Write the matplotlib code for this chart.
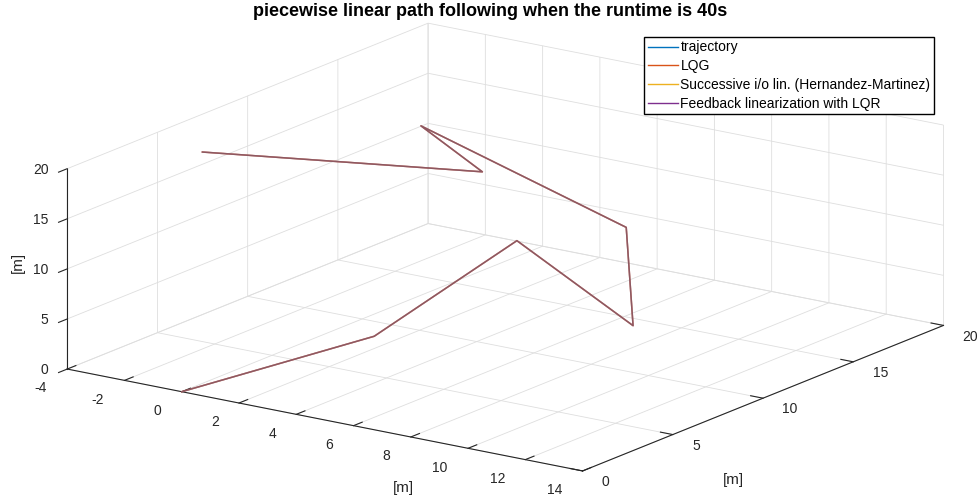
import matplotlib
matplotlib.use('Agg')
import matplotlib.pyplot as plt
from matplotlib.lines import Line2D

plt.rcParams['font.family'] = ['Liberation Sans', 'DejaVu Sans']
plt.rcParams['axes.unicode_minus'] = False
plt.rcParams['grid.color'] = '#dedede'
plt.rcParams['grid.linewidth'] = 0.6

# waypoints of the piecewise linear reference [m]
wp_x = [0.0, 4.2, 4.9, 9.65, 9.6, 1.8, 3.0, -1.8]
wp_y = [0.0, 4.0, 10.8, 9.7, 9.4, 10.4, 11.9, 4.0]
wp_z = [0.0, 5.0, 10.0, 5.0, 15.0, 20.0, 15.0, 20.0]

# the controllers track the path closely at this scale
labels = ['trajectory', 'LQG', 'Successive i/o lin. (Hernandez-Martinez)',
          'Feedback linearization with LQR']
colors = ['#0072BD', '#D95319', '#EDB120', '#7E2F8E']
alphas = [0.25, 1.0, 0.1, 0.45]
zorders = [3, 1, 4, 2]

x_ticks = [-4, -2, 0, 2, 4, 6, 8, 10, 12, 14]
y_ticks = [0, 5, 10, 15, 20]
z_ticks = [0, 5, 10, 15, 20]

fig = plt.figure(figsize=(9.8, 4.99), dpi=100)
ax = fig.add_axes([249.1 / 980, -4.3 / 499, 499 / 980, 1.0], projection='3d')
ax.computed_zorder = False
ax.set_proj_type('ortho')
ax.view_init(elev=16.4, azim=-55)
ax.set_box_aspect((1, 1, 0.332), zoom=1.778)

for c, a, zo in zip(colors, alphas, zorders):
    ax.plot(wp_x, wp_y, wp_z, color=c, alpha=a, lw=1.1, zorder=zo, clip_on=False)

ax.set_xlim(-4, 14)
ax.set_ylim(0, 20)
ax.set_zlim(0, 20)
ax.set_xticks(x_ticks)
ax.set_yticks(y_ticks)
ax.set_zticks(z_ticks)

for axis in (ax.xaxis, ax.yaxis, ax.zaxis):
    axis.set_pane_color((1, 1, 1, 0))
    axis.pane.set_edgecolor('#dedede')
    axis.line.set_color('#262626')
    axis.line.set_linewidth(0.8)
    axis._axinfo['tick']['inward_factor'] = 0.0
    axis._axinfo['tick']['outward_factor'] = 0.3
ax.zaxis.set_ticks_position('lower')
ax.zaxis._axinfo['tick']['inward_factor'] = 0.3
ax.zaxis._axinfo['tick']['outward_factor'] = 0.0
ax.tick_params(colors='#262626', labelsize=10)
ax.tick_params(axis='x', pad=2.5)
ax.tick_params(axis='y', pad=-1)
ax.tick_params(axis='z', pad=-4)

# tick label alignment, set after tick_params so it is kept
for axis, ha in ((ax.xaxis, 'right'), (ax.yaxis, 'left'), (ax.zaxis, 'right')):
    for t in axis.get_major_ticks():
        t.label1.set_horizontalalignment(ha)
        t.label1.set_verticalalignment('center')

# axis labels
fig.text(403 / 980, 1 - 488 / 499, '[m]', ha='center', va='center',
         fontsize=11, color='#262626')
fig.text(733 / 980, 1 - 480 / 499, '[m]', ha='center', va='center',
         fontsize=11, color='#262626')
fig.text(18 / 980, 1 - 262 / 499, '[m]', ha='center', va='center',
         fontsize=11, color='#262626', rotation=90)

fig.text(0.5, 1 - 11 / 499, 'piecewise linear path following when the runtime is 40s',
         ha='center', va='center', fontsize=13, fontweight='bold')

handles = [Line2D([], [], color=c, lw=1) for c in colors]
fig.legend(handles, labels, loc='upper right', bbox_to_anchor=(0.953, 0.926),
           fancybox=False, edgecolor='black', framealpha=1, fontsize=10,
           borderaxespad=0, handlelength=2.2, handletextpad=0.15,
           labelspacing=0.35, borderpad=0.25)

fig.savefig('out.png', dpi=100)
